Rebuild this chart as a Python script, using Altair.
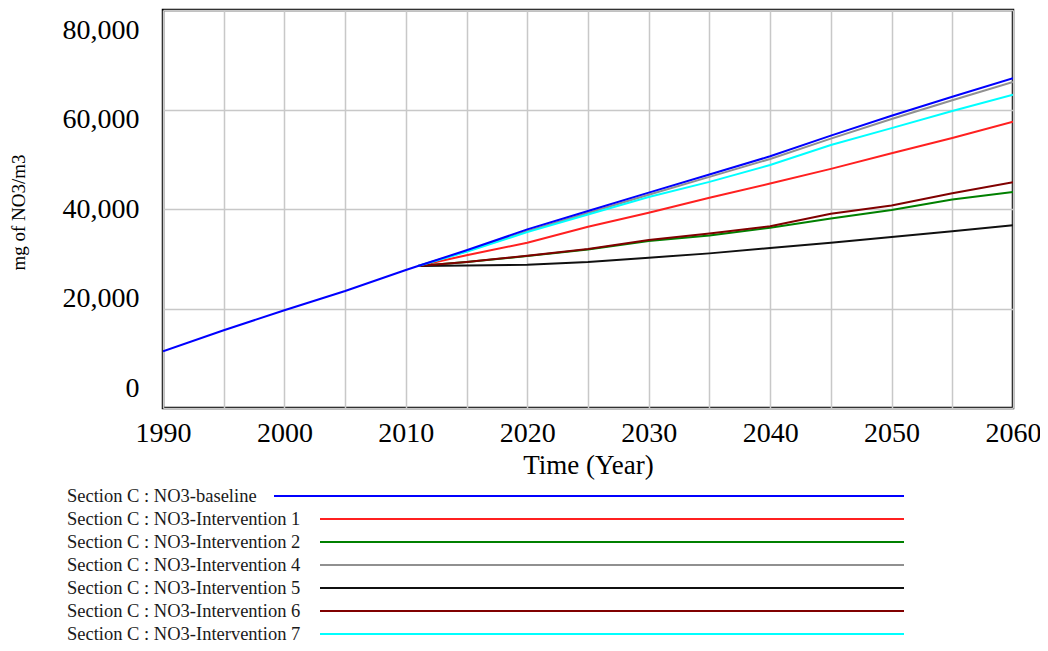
import altair as alt
import pandas as pd

# ---- data ----
hist_years = [1990, 1995, 2000, 2005, 2010, 2011]
hist_baseline = [11400, 15640, 19650, 23520, 27730, 28550]

proj_years = [2011, 2015, 2020, 2025, 2030, 2035, 2040, 2045, 2050, 2055, 2060]
baseline_proj = [28550, 31700, 35900, 39600, 43300, 46950, 50600, 54750, 58750, 62550, 66300]
int1 = [28550, 30700, 33220, 36430, 39240, 42250, 45110, 48060, 51200, 54270, 57550]
int2 = [28550, 29330, 30540, 31880, 33550, 34690, 36230, 38100, 39800, 41900, 43400]
int4 = [28550, 31500, 35550, 39200, 42850, 46450, 50050, 54150, 58100, 61850, 65550]
int5 = [28550, 28650, 28800, 29330, 30210, 31080, 32150, 33200, 34350, 35550, 36750]
int6 = [28550, 29350, 30600, 31950, 33750, 35090, 36550, 39040, 40700, 43150, 45400]
int7 = [28550, 31400, 35350, 38900, 42400, 45450, 48850, 52850, 56250, 59700, 62950]

series_names = [
    "Section C : NO3-baseline",
    "Section C : NO3-Intervention 1",
    "Section C : NO3-Intervention 2",
    "Section C : NO3-Intervention 4",
    "Section C : NO3-Intervention 5",
    "Section C : NO3-Intervention 6",
    "Section C : NO3-Intervention 7",
]
series_colors = ["#0000ff", "#ff2020", "#008000", "#909090", "#101010", "#800000", "#00ffff"]

x_grid_values = list(range(1990, 2061, 5))
y_tick_values = [0, 20000, 40000, 60000, 80000]

FONT = "Liberation Serif"

# ---- build tables ----
rows = []
# interventions first, baseline last so it is drawn on top
for name, vals in zip(series_names[1:], [int1, int2, int4, int5, int6, int7]):
    for yr, v in zip(proj_years, vals):
        rows.append({"series": name, "year": yr, "value": v})
for yr, v in zip(hist_years + proj_years[1:], hist_baseline + baseline_proj[1:]):
    rows.append({"series": series_names[0], "year": yr, "value": v})
df = pd.DataFrame(rows)

leg = pd.DataFrame({"series": series_names})

color = alt.Color("series:N", scale=alt.Scale(domain=series_names, range=series_colors), legend=None)

lines = alt.Chart(df).mark_line(strokeWidth=2, clip=True).encode(
    x=alt.X(
        "year:Q",
        scale=alt.Scale(domain=[1990, 2060], nice=False, zero=False),
        axis=alt.Axis(
            values=x_grid_values,
            labelExpr="datum.value % 10 == 0 ? datum.value : ''",
            title="Time (Year)",
            ticks=False,
            domain=False,
            labelPadding=11,
            titlePadding=5,
            labelFlush=False,
        ),
    ),
    y=alt.Y(
        "value:Q",
        scale=alt.Scale(domain=[0, 80000], nice=False),
        axis=alt.Axis(
            values=y_tick_values,
            format=",d",
            title="mg of NO3/m3",
            ticks=False,
            domain=False,
            labelPadding=24,
            titleX=-135,
            titleY=202,
            titleAngle=-90,
            titleBaseline="bottom",
            titleAlign="center",
            titleFontSize=19,
            labelOffset={"condition": {"test": "datum.value == 40000", "value": 0},
                         "expr": "datum.value / 2000 - 20"},
        ),
    ),
    color=color,
    detail="series:N",
)

legend_y = alt.Y("series:N",
                 scale=alt.Scale(domain=series_names, range=[474.5, 635.5], padding=0),
                 axis=None)

leg_text = alt.Chart(leg).mark_text(
    align="left", baseline="middle", font=FONT, fontSize=18.5, color="#1a1a1a"
).encode(x=alt.value(-96), y=legend_y, text="series:N")

leg_rule_base = alt.Chart(leg).transform_filter(
    alt.datum.series == series_names[0]
).mark_rule(strokeWidth=2).encode(
    x=alt.value(111), x2=alt.value(741), y=legend_y, color=color
)
leg_rule_rest = alt.Chart(leg).transform_filter(
    alt.datum.series != series_names[0]
).mark_rule(strokeWidth=2).encode(
    x=alt.value(157), x2=alt.value(741), y=legend_y, color=color
)

legend_block = alt.layer(leg_text, leg_rule_base, leg_rule_rest)

chart = alt.layer(lines, legend_block).resolve_scale(
    y="independent"
).properties(
    width=850,
    height=398,
    autosize=alt.AutoSizeParams(type="none"),
    padding={"left": 155, "top": 2, "right": 27, "bottom": 235},
    background="white",
).configure_view(
    stroke="black", strokeWidth=2.5
).configure_axis(
    labelFont=FONT,
    titleFont=FONT,
    labelFontSize=28,
    titleFontSize=27,
    labelColor="#000",
    titleColor="#000",
    titleFontWeight="normal",
    gridColor="#c8c8c8",
    gridWidth=1.5,
)

chart.save("out.html", embed_options={"renderer": "svg", "actions": False})
